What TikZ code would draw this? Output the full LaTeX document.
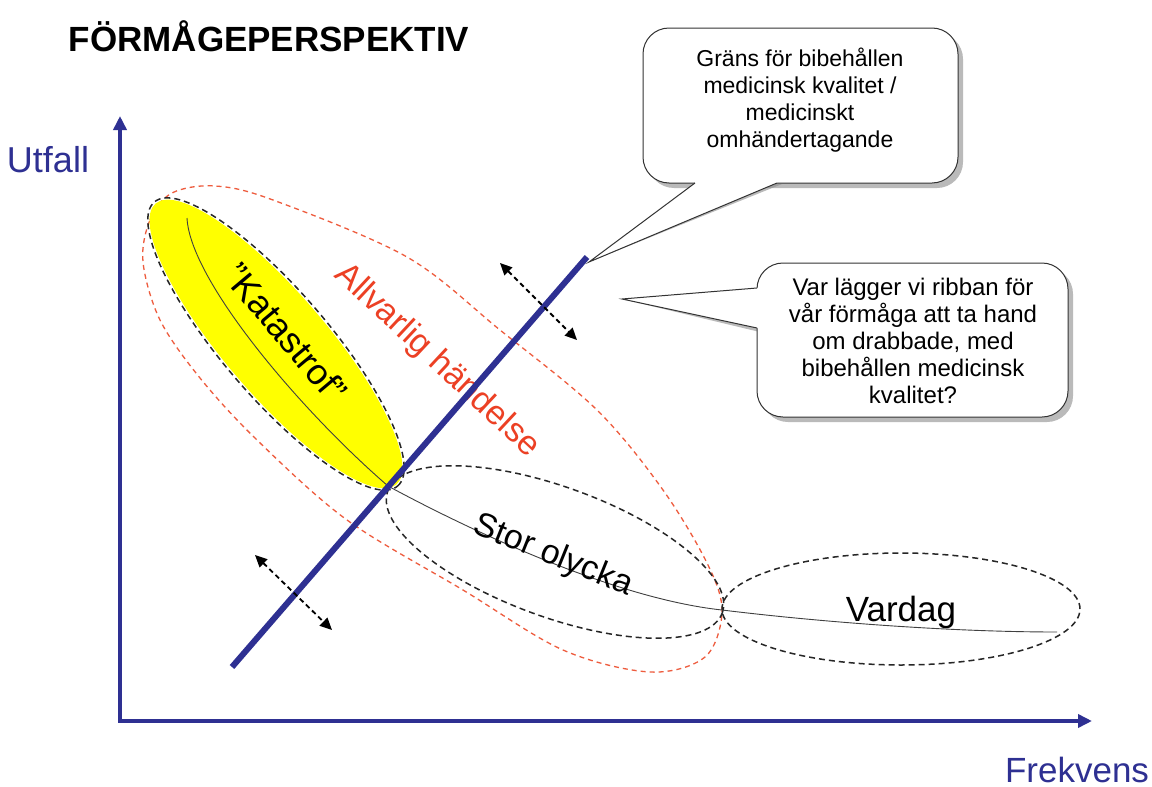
\documentclass[tikz,border=0pt]{standalone}
\usepackage{fontspec}
\setmainfont{Liberation Sans}
\usetikzlibrary{arrows.meta}
\definecolor{axisblue}{RGB}{46,48,146}
\definecolor{redtext}{RGB}{236,64,36}
\definecolor{reddash}{RGB}{238,92,62}
\definecolor{catyellow}{RGB}{255,255,0}
\begin{document}
\begin{tikzpicture}[x=1pt,y=-1pt,
 axisline/.style={draw=axisblue,line width=4pt,line join=miter},
 ribbonline/.style={draw=axisblue,line width=6pt},
 dasharrow/.style={draw=black,line width=1.8pt,dash pattern=on 5pt off 3.5pt,{Triangle[length=12pt,width=11pt]}-{Triangle[length=12pt,width=11pt]}},
 blackdash/.style={draw=black!85,line width=1.5pt,dash pattern=on 6pt off 4pt},
 reddashed/.style={draw=reddash,line width=1.3pt,dash pattern=on 5pt off 4pt},
 curveline/.style={draw=black!75,line width=0.9pt},
 bubble/.style={draw=black!80,line width=1pt,fill=white,rounded corners=26pt},
 bubbleshadow/.style={fill=black!45,opacity=0.6,rounded corners=26pt},
 bubbleside/.style={draw=black!80,line width=1pt},
 bubbletext/.style={align=center,text=black,inner sep=0pt},
 bigtext/.style={inner sep=0pt}]
\useasboundingbox (0,0) rectangle (1152,787);
\fill[white] (0,0) rectangle (1152,787);

% title
\node[bigtext,font=\fontsize{35}{42}\selectfont\bfseries] (title) at (269,36) {FÖRMÅGEPERSPEKTIV};

% axes
\coordinate (ytip) at (120,116);
\coordinate (O) at (120,721);
\coordinate (xtip) at (1092,721);
\draw[axisline,{Triangle[length=14pt,width=13pt]}-{Triangle[length=14pt,width=13pt]}] (ytip) -- (O) -- (xtip);
\node[bigtext,text=axisblue,font=\fontsize{36}{43}\selectfont] (utfall) at (48,160) {Utfall};
\node[bigtext,text=axisblue,font=\fontsize{35}{42}\selectfont] (frekvens) at (1077,770) {Frekvens};

% red outline of "Allvarlig händelse"
\draw[reddashed] plot[smooth cycle, tension=0.55] coordinates {(143,262) (150,220) (172,193) (215,186) (273,200) (407,257) (500,330) (597,410) (663,490) (708,565) (722,612) (705,657) (650,672) (563,650) (463,590) (347,520) (257,440) (200,378) (160,320)};

% ellipses
\fill[catyellow, rotate around={-49.4:(276,344)}] (276,344) ellipse [x radius=185pt, y radius=51pt];
\draw[blackdash, rotate around={-49.4:(276,344)}] (276,344) ellipse [x radius=187pt, y radius=53pt];
\draw[blackdash, rotate around={-20:(555,552)}] (555,552) ellipse [x radius=178pt, y radius=65pt];
\draw[blackdash] (901,609) ellipse [x radius=179pt, y radius=56pt];

% curve
\coordinate (k0) at (187,218);
\coordinate (k1) at (388,486);
\coordinate (k2) at (722,610);
\coordinate (k3) at (1057,632);
\draw[curveline] (k0) .. controls (190,280) and (300,410) .. (k1)
  .. controls (460,525) and (610,598) .. (k2)
  .. controls (820,622) and (950,632) .. (k3);

% labels
\node[bigtext,font=\fontsize{36}{43}\selectfont,rotate=-50] (katastrof) at (286,333) {”Katastrof”};
\node[bigtext,text=redtext,font=\fontsize{34}{41}\selectfont,rotate=-43] (allvarlig) at (437,361) {Allvarlig händelse};
\node[bigtext,font=\fontsize{34}{41}\selectfont,rotate=-22] (stor) at (553,556) {Stor olycka};
\node[bigtext,font=\fontsize{35}{42}\selectfont] (vardag) at (901,612) {Vardag};

% ribbon line
\coordinate (rb) at (232,667);
\coordinate (rt) at (587,257);
\draw[ribbonline] (rb) -- (rt);

% dashed double arrows
\coordinate (a1s) at (500,263);
\coordinate (a1e) at (577,340);
\coordinate (a2s) at (255,555);
\coordinate (a2e) at (332,630);
\draw[dasharrow] (a1s) -- (a1e);
\draw[dasharrow] (a2s) -- (a2e);

% callout 1
\coordinate (tip1) at (589,262);
\fill[bubbleshadow,shift={(5,5)}] (643,28) rectangle (958,183);
\fill[black!45,opacity=0.6,shift={(5,4)}] (695,180) -- (tip1) -- (777,180) -- cycle;
\draw[bubble] (643,28) rectangle (958,183);
\fill[white] (695,183) -- (tip1) -- (777,183) -- (777,178) -- (695,178) -- cycle;
\draw[bubbleside] (695,183) -- (tip1) -- (777,183);
\node[bubbletext,font=\fontsize{23}{27}\selectfont] (c1) at (800,100) {Gräns för bibehållen\\medicinsk kvalitet /\\medicinskt\\omhändertagande};

% callout 2
\coordinate (tip2) at (622,299);
\fill[bubbleshadow,shift={(5,5)}] (757,263) rectangle (1068,417);
\fill[black!45,opacity=0.6,shift={(4,5)}] (760,288) -- (tip2) -- (760,328) -- cycle;
\draw[bubble] (757,263) rectangle (1068,417);
\fill[white] (757,288) -- (tip2) -- (757,328) -- (762,328) -- (762,288) -- cycle;
\draw[bubbleside] (757,288) -- (tip2) -- (757,328);
\node[bubbletext,font=\fontsize{24}{27}\selectfont] (c2) at (913,341) {Var lägger vi ribban för\\vår förmåga att ta hand\\om drabbade, med\\bibehållen medicinsk\\kvalitet?};
\end{tikzpicture}
\end{document}
